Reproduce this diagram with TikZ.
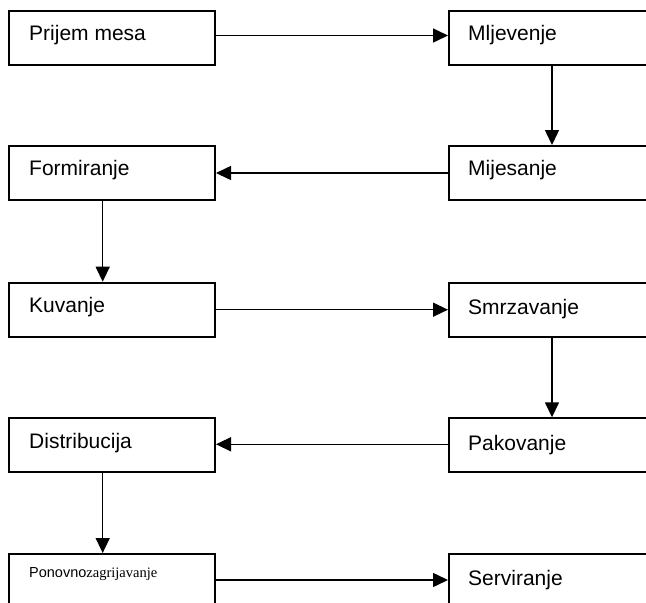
\documentclass[tikz,border=0pt]{standalone}
\usepackage{fontspec}
\setmainfont{Liberation Sans}
\newfontfamily\serifface{Liberation Serif}
\usetikzlibrary{arrows.meta}
\begin{document}
\begin{tikzpicture}[x=1pt,y=-1pt,
  box/.style={draw=black,line width=2pt,rectangle,minimum width=206pt,minimum height=54pt,inner sep=0pt,anchor=north west},
  lbl/.style={anchor=base west,inner sep=0pt,font=\fontsize{21}{21}\selectfont},
  arr/.style={line width=1.5pt,-{Triangle[length=15pt,width=14pt]}}]
\fill[white] (0,0) rectangle (646,603);
\useasboundingbox (0,0) rectangle (646,603);
\clip (0,0) rectangle (646,603);
% boxes
\node[box] (b1) at (8,9.5) {};
\node[box] (b2) at (448,9.5) {};
\node[box] (b3) at (8,145) {};
\node[box] (b4) at (448,145) {};
\node[box] (b5) at (8,281.7) {};
\node[box] (b6) at (448,281.7) {};
\node[box] (b7) at (8,417.3) {};
\node[box] (b8) at (448,417.3) {};
\node[box] (b9) at (8,553) {};
\node[box] (b10) at (448,553) {};
% labels
\node[lbl] (t1) at (29,40.5) {Prijem mesa};
\node[lbl] (t2) at (468,40) {Mljevenje};
\node[lbl] (t3) at (29,175.5) {Formiranje};
\node[lbl] (t4) at (468,175) {Mijesanje};
\node[lbl] (t5) at (29,312.5) {Kuvanje};
\node[lbl] (t6) at (468,314.5) {Smrzavanje};
\node[lbl] (t7) at (29,448) {Distribucija};
\node[lbl] (t8) at (468,450) {Pakovanje};
\node[anchor=base west,inner sep=0pt] (t9) at (29,577) {\fontsize{14.5}{14.5}\selectfont Ponovno{\serifface zagrijavanje}};
\node[lbl] (t10) at (468,585) {Serviranje};
% connectors
\draw[arr] ([yshift=2pt]b1.east) -- ([yshift=2pt]b2.west);
\draw[arr] (b2.south) -- (b4.north);
\draw[arr] (b4.west) -- (b3.east);
\draw[arr] ([xshift=-9.3pt]b3.south) -- ([xshift=-9.3pt]b5.north);
\draw[arr] (b5.east) -- (b6.west);
\draw[arr] (b6.south) -- (b8.north);
\draw[arr] ([yshift=1pt]b8.west) -- ([yshift=1pt]b7.east);
\draw[arr] ([xshift=-9.3pt]b7.south) -- ([xshift=-9.3pt]b9.north);
\draw[arr] ([yshift=1pt]b9.east) -- ([yshift=1pt]b10.west);
\end{tikzpicture}
\end{document}
